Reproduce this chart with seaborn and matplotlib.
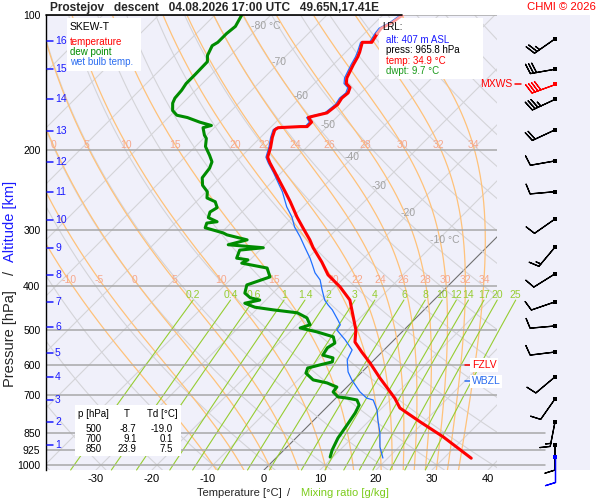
import numpy as np
import pandas as pd
import matplotlib
matplotlib.use("Agg")
import matplotlib.pyplot as plt
from matplotlib.patches import Rectangle
from matplotlib.ticker import FixedLocator, NullLocator
import seaborn as sns

# sounding: pressure [hPa], temperature [degC]
temp_p = [965.8, 866, 802, 747, 710, 688, 641, 593, 561, 533,
          501, 430, 402, 378, 354, 329, 316, 297, 281, 260,
          247, 227, 213, 207, 197, 187, 180, 178, 177, 177,
          173, 169, 168, 165, 158, 153, 149, 145, 142, 138,
          129, 124, 121, 115, 115, 110]
temp_t = [34.9, 26.1, 19.3, 13.2, 10.5, 8.6, 4.3, -0.2, -3.6, -6.6,
          -8.6, -15.0, -19.1, -23.4, -26.8, -30.9, -32.9, -36.3, -39.3, -43.2,
          -45.9, -50.4, -53.8, -55.2, -56.4, -57.9, -58.8, -58.6, -54.8, -53.6,
          -53.6, -55.0, -54.5, -52.5, -52.1, -52.5, -52.3, -52.9, -54.3, -55.2,
          -56.4, -57.0, -57.5, -58.8, -57.1, -57.7]
# top piece of the temperature trace is drawn lighter
temp_top_p = [110, 107, 104, 101, 100]
temp_top_t = [-57.7, -57.9, -57.0, -56.6, -56.4]

dwpt_p = [960, 926, 871, 815, 766, 736, 717, 710, 706, 688,
          671, 657, 647, 625, 609, 599, 590, 578, 570, 549,
          536, 519, 506, 496, 488, 471, 459, 452, 446, 437,
          430, 425, 415, 398, 382, 365, 356, 350, 347, 333,
          329, 324, 316, 308, 305, 297, 290, 288, 282, 274,
          268, 260, 255, 247, 239, 230, 219, 212, 205, 196,
          188, 185, 178, 176, 173, 169, 167, 163, 157, 153,
          147, 142, 136, 127, 123, 117, 115, 110, 106, 100]
dwpt_t = [9.5, 8.6, 7.5, 6.8, 6.1, 5.4, 4.1, 2.0, 0.2, -1.6,
          -1.8, -4.3, -7.3, -9.8, -10.4, -8.75, -7.1, -7.7, -10.0, -10.5,
          -10.0, -11.4, -15.2, -18.9, -17.7, -19.5, -22.1, -27.0, -30.7, -33.2,
          -31.1, -33.2, -35.0, -36.1, -33.4, -35.5, -40.9, -40.4, -42.7, -43.6,
          -39.8, -46.6, -44.1, -48.6, -49.6, -53.75, -54.3, -52.7, -55.0, -55.7,
          -55.2, -56.6, -58.75, -59.8, -61.8, -63.2, -63.6, -64.3, -65.9, -68.2,
          -69.5, -70.4, -72.0, -70.9, -73.6, -76.6, -78.9, -80.5, -81.8, -82.3,
          -82.5, -82.9, -82.9, -83.0, -84.1, -85.0, -84.6, -84.6, -84.3, -85.2]

wetb_p = [965, 912, 849, 794, 755, 717, 710, 688, 647, 621,
          584, 555, 527, 501, 488, 476, 452, 441, 430, 408,
          388, 374, 359, 347, 328, 311, 296, 281, 267, 247,
          224, 213, 207, 197, 187, 180, 178, 177, 177, 173,
          169, 168, 165, 158, 153, 149, 145, 142, 138, 129,
          124, 121, 115, 115, 110, 107, 104, 101, 100]
wetb_t = [19.1, 16.6, 14.1, 11.4, 9.5, 7.0, 5.5, 3.2, -0.4, -2.5,
          -4.8, -5.7, -8.75, -12.0, -12.3, -13.6, -16.4, -18.0, -19.5, -21.8,
          -23.9, -26.1, -28.0, -29.6, -32.5, -35.2, -37.9, -40.2, -42.9, -46.4,
          -51.4, -54.1, -55.5, -56.7, -58.2, -59.1, -58.9, -55.2, -54.0, -54.0,
          -55.3, -54.9, -52.9, -52.5, -52.9, -52.7, -53.3, -54.7, -55.6, -56.8,
          -57.4, -57.9, -59.1, -57.5, -58.1, -58.3, -57.4, -57.0, -56.8]

# wind barbs: pressure [hPa], direction [deg], speed [kt]
wind_p = [113, 132, 142, 154, 180, 211, 247, 284, 328, 376, 434, 491, 561, 637, 713, 802, 903, 960]
wind_dir = [235, 260, 250, 245, 245, 260, 265, 235, 220, 238, 251, 265, 263, 230, 215, 191, 180, 180]
wind_spd = [25, 30, 40, 35, 20, 10, 10, 10, 15, 10, 10, 10, 10, 10, 10, 15, 10, 10]
mxws_p = 142
sfc_wind_p = 960

# altitude marks [km] and their pressure
km_labels = list(range(1, 17))
km_p = [903, 802, 717, 637, 564, 494, 434, 378, 329, 285, 247, 212, 181, 154, 132, 114]

p_levels = [100, 200, 300, 400, 500, 600, 700, 850, 925, 1000]
t_ticks = [-30, -20, -10, 0, 10, 20, 30, 40]
iso_label_t = [-80, -70, -60, -50, -40, -30, -20, -10]
iso_label_p = [106, 127, 151, 176, 207, 240, 275, 316]
theta_w = [-10, -5, 0, 5, 10, 15, 20, 22, 24, 26, 28, 30, 32, 34]
mix_ratio = [0.2, 0.4, 0.6, 1, 1.4, 2, 3, 4, 6, 8, 10, 12, 14, 17, 20, 25]
mix_labels = ["0.2", "0.4", "0.6", "1", "1.4", "2", "3", "4", "6", "8",
              "10", "12", "14", "17", "20", "25"]

tab_p = [500, 700, 850]
tab_t = [-8.7, 9.1, 23.9]
tab_td = [-19.0, 0.1, 7.5]

lrl_alt = 407
lrl_press = 965.8
lrl_temp = 34.9
lrl_dwpt = 9.7
fzlv_p = 599
wbzl_p = 652

# skew-T geometry
P_BOT = 1025.9
SKEW = 34.89


def skew_x(t, p):
    return np.asarray(t, float) + SKEW * np.log(P_BOT / np.asarray(p, float))


def lapse(t, p):
    # pseudo-adiabatic dT/dlnp
    es = 6.112 * np.exp(17.67 * (t - 273.15) / (t - 29.65))
    rs = 0.622 * es / (p - es)
    return (287.04 * t + 2.501e6 * rs) / (1005.7 + 2.501e6 ** 2 * rs * 0.622 / (287.04 * t ** 2))


def integrate(t0, p):
    t = np.empty((len(p), len(t0)))
    t[0] = t0
    lp = np.log(p)
    for i in range(1, len(p)):
        h = lp[i] - lp[i - 1]
        pm = np.exp(lp[i - 1] + h / 2)
        k1 = lapse(t[i - 1], p[i - 1])
        k2 = lapse(t[i - 1] + h * k1 / 2, pm)
        k3 = lapse(t[i - 1] + h * k2 / 2, pm)
        k4 = lapse(t[i - 1] + h * k3, p[i])
        t[i] = t[i - 1] + h * (k1 + 2 * k2 + 2 * k3 + k4) / 6
    return t


sns.set_theme(style="white")
plt.rcParams["font.family"] = ["Liberation Sans", "DejaVu Sans"]

W, H = 600, 500
fig = plt.figure(figsize=(6, 5), dpi=100)


def fx(px):
    return px / W


def fy(py):
    return 1 - py / H


bg = "#f0f0fa"
ax = fig.add_axes([fx(46), fy(470), (497 - 46) / W, (470 - 15) / H])
ax2 = fig.add_axes([fx(497), fy(470), (590 - 497) / W, (470 - 15) / H])
ax.set_zorder(2)
ax2.set_zorder(1)
for a in (ax, ax2):
    a.set_facecolor(bg)
    a.set_yscale("log")
    a.set_ylim(P_BOT, 100)
ax.set_xlim(-38.93, 41.61)
ax2.set_xlim(0, 93)

# isotherms and dry adiabats
p_line = np.geomspace(P_BOT, 100, 120)
for t0 in range(-120, 50, 10):
    ax.plot(skew_x([t0, t0], [P_BOT, 100]), [P_BOT, 100],
            color="#707070" if t0 == 0 else "#d4d4d8", lw=0.8, zorder=1)
for th in range(-40, 190, 10):
    t = (th + 273.15) * (p_line / 1000) ** 0.2857 - 273.15
    ax.plot(skew_x(t, p_line), p_line, color="#d4d4d8", lw=0.8, zorder=1)

for tl, pl in zip(iso_label_t, iso_label_p):
    s = f"{tl} °C" if tl in (-80, -10) else f"{tl}"
    ax.annotate(s, (skew_x(tl, pl), pl), xytext=(-6, 0), textcoords="offset points",
                ha="left", va="center", color="#a0a0a0", fontsize=7.5, zorder=2)

# moist adiabats
p_up = np.geomspace(1000, 100, 200)
p_dn = np.geomspace(1000, P_BOT, 5)
tw0 = np.array(theta_w, float) + 273.15
t_up = integrate(tw0, p_up)
t_dn = integrate(tw0, p_dn)
p_all = np.concatenate([p_dn[::-1], p_up[1:]])
t_all = np.concatenate([t_dn[::-1], t_up[1:]]) - 273.15
for j, tw in enumerate(theta_w):
    ax.plot(skew_x(t_all[:, j], p_all), p_all, color="#ffc27a", lw=0.9, zorder=1.1)
    for pl in (194, 388):
        tl = np.interp(np.log(pl), np.log(p_all[::-1]), t_all[::-1, j])
        xl = skew_x(tl, pl)
        if -38 < xl < 41:
            ax.text(xl, pl, str(tw), ha="center", va="center", color="#f6a88c",
                    fontsize=7.5, zorder=2)

# mixing ratio lines
p_mix = np.geomspace(P_BOT, 430, 30)
for w, lab in zip(mix_ratio, mix_labels):
    e = w * p_mix / (622 + w)
    a_ = np.log(e / 6.112)
    td = 243.5 * a_ / (17.67 - a_)
    ax.plot(skew_x(td, p_mix), p_mix, color="#96cd32", lw=0.8, clip_on=False, zorder=1.2)
    ax.text(skew_x(td[-1], 430), 430, lab, ha="center", va="bottom", color="#96cd32",
            fontsize=7.5, zorder=2)

# pressure lines
for p in p_levels:
    ax.axhline(p, color="#a8a8a8", lw=1.1, zorder=1.5)
for p in [850, 925, 1000]:
    ax2.axhline(p, xmax=48 / 93, color="#a8a8a8", lw=1.1, zorder=1.5)

# profiles
sns.lineplot(x=skew_x(wetb_t, wetb_p), y=wetb_p, sort=False, estimator=None,
             color="#1f6fff", lw=0.9, ax=ax, zorder=3)
sns.lineplot(x=skew_x(dwpt_t, dwpt_p), y=dwpt_p, sort=False, estimator=None,
             color="#008c00", lw=2.2, ax=ax, zorder=3.5)
sns.lineplot(x=skew_x(temp_t, temp_p), y=temp_p, sort=False, estimator=None,
             color="#ff0000", lw=2.2, ax=ax, zorder=4)
sns.lineplot(x=skew_x(temp_top_t, temp_top_p), y=temp_top_p, sort=False, estimator=None,
             color="#ff9c9c", lw=2.0, ax=ax, zorder=4)

# altitude marks
ytr = ax.get_yaxis_transform()
for k, p in zip(km_labels, km_p):
    ax.plot([1 / 451, 7 / 451], [p, p], transform=ytr, color="#1a1aff", lw=1.1, zorder=5)
    ax.text(9 / 451, p, str(k), transform=ytr, color="#1a1aff", fontsize=7.5,
            ha="left", va="center", zorder=5)


def ax_frac(px):
    return (px - 46) / 451


# freezing / wet bulb zero levels
ax.plot([ax_frac(465), ax_frac(471)], [fzlv_p, fzlv_p], transform=ytr,
        color="red", lw=1.1, clip_on=False, zorder=5)
ax.text(ax_frac(472), fzlv_p, "FZLV", transform=ytr, color="red", fontsize=7.5,
        ha="left", va="center", zorder=5,
        bbox=dict(facecolor="white", edgecolor="none", pad=1.2))
ax.plot([ax_frac(465), ax_frac(471)], [wbzl_p, wbzl_p], transform=ytr,
        color="#2a6cf0", lw=1.1, clip_on=False, zorder=5)
ax.text(ax_frac(472), wbzl_p, "WBZL", transform=ytr, color="#2a6cf0", fontsize=7.5,
        ha="left", va="center", zorder=5,
        bbox=dict(facecolor="white", edgecolor="none", pad=1.2))

# max wind label
ax.text(ax_frac(512), mxws_p, "MXWS", transform=ytr, color="red", fontsize=7.5,
        ha="right", va="center", zorder=5)
ax.plot([ax_frac(515), ax_frac(521)], [mxws_p, mxws_p], transform=ytr,
        color="red", lw=1.1, clip_on=False, zorder=5)

# wind barbs
wp = np.array(wind_p)
wd = np.deg2rad(wind_dir)
ws = np.array(wind_spd, float)
u = -ws * np.sin(wd)
v = -ws * np.cos(wd)
col = np.where(wp == mxws_p, "red", np.where(wp == sfc_wind_p, "#0000ff", "black"))
for c in ["black", "red", "#0000ff"]:
    m = col == c
    ax2.barbs(np.full(m.sum(), 58.0), wp[m], u[m], v[m], length=6.0, color=c, lw=0.9,
              sizes=dict(emptybarb=0), clip_on=False, zorder=3)
    ax2.scatter(np.full(m.sum(), 58.0), wp[m], marker="s", s=7, color=c,
                zorder=4, clip_on=False, linewidths=0)

# axes cosmetics
for s in ("top", "right", "bottom"):
    ax.spines[s].set_visible(False)
ax.spines["left"].set_color("black")
ax.spines["left"].set_linewidth(1.0)
for s in ax2.spines.values():
    s.set_visible(False)
ax2.set_xticks([])
ax2.yaxis.set_major_locator(NullLocator())
ax2.yaxis.set_minor_locator(NullLocator())
ax.plot([0, 356 / 451], [1, 1], transform=ax.transAxes, color="black", lw=1.2,
        clip_on=False, zorder=6)

ax.yaxis.set_major_locator(FixedLocator(p_levels))
ax.yaxis.set_minor_locator(NullLocator())
ax.set_yticklabels([str(p) for p in p_levels])
ax.set_xticks(t_ticks)
ax.set_xticklabels([str(t) for t in t_ticks])
ax.tick_params(axis="y", length=0, pad=4, labelsize=7.5, colors="black")
ax.tick_params(axis="x", length=0, pad=3, labelsize=8, colors="black")
ax.set_xlabel("")
ax.set_ylabel("")


# text boxes
def box(x0, y0, x1, y1):
    ax.add_patch(Rectangle((fx(x0), fy(y1)), (x1 - x0) / W, (y1 - y0) / H,
                           transform=fig.transFigure, facecolor="white",
                           edgecolor="none", zorder=2.5, clip_on=False))


def label(x, y, s, **kw):
    kw.setdefault("fontsize", 7)
    kw.setdefault("va", "center")
    ax.text(fx(x), fy(y), s, transform=fig.transFigure, zorder=5, **kw)


box(67, 18, 141, 71)
label(70, 26.5, "SKEW-T", fontsize=7.5, color="black")
label(70, 42, "temperature", color="red")
label(70, 52, "dew point", color="#008c00")
label(70, 62, "wet bulb temp.", color="#2a6cf0")

box(379, 18, 483, 79)
label(382, 27, "LRL:", color="black")
label(386, 40, f"alt: {lrl_alt} m ASL", color="#1a1aff")
label(386, 50, f"press: {lrl_press} hPa", color="black")
label(386, 60.5, f"temp: {lrl_temp} °C", color="red")
label(386, 70.5, f"dwpt: {lrl_dwpt} °C", color="#1a9a1a")

box(75, 405, 181, 456)
label(78, 414, "p [hPa]", color="black")
label(127, 414, "T", color="black", ha="center")
label(147, 414, "Td [°C]", color="black")
for i, (pp, tt, dd) in enumerate(zip(tab_p, tab_t, tab_td)):
    yy = 429 + 10 * i
    label(102, yy, f"{pp}", ha="right", color="black")
    label(136.5, yy, f"{tt:.1f}", ha="right", color="black")
    label(173, yy, f"{dd:.1f}", ha="right", color="black")

# titles and axis labels
fig.text(fx(50), fy(7.5), "Prostejov   descent   04.08.2026 17:00 UTC   49.65N,17.41E",
         fontsize=8.6, fontweight="bold", ha="left", va="center")
fig.text(fx(596), fy(7.5), "CHMI © 2026", fontsize=8.2, color="red", ha="right", va="center")
fig.text(fx(239), fy(493), "Temperature [°C]", fontsize=8, ha="center", va="center")
fig.text(fx(289), fy(493), "/", fontsize=8, ha="center", va="center")
fig.text(fx(345), fy(493), "Mixing ratio [g/kg]", fontsize=8, color="#7ccc1c",
         ha="center", va="center")
fig.text(fx(10), fy(339), "Pressure [hPa]", fontsize=10.5, rotation=90, ha="center", va="center")
fig.text(fx(10), fy(273), "/", fontsize=10.5, rotation=90, ha="center", va="center")
fig.text(fx(10), fy(221), "Altitude [km]", fontsize=10.5, color="#1a1aff", rotation=90,
         ha="center", va="center")

fig.savefig("out.png", dpi=100, facecolor="white")
